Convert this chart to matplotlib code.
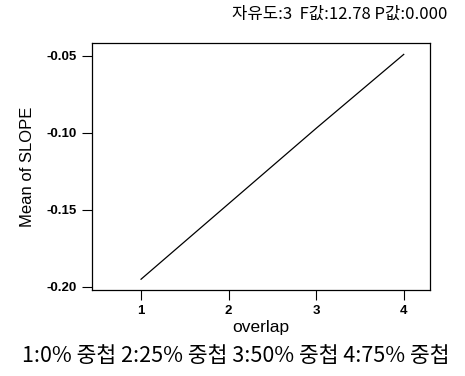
import matplotlib
matplotlib.use('Agg')
from matplotlib import pyplot as plt

overlap = [1, 2, 3, 4]
mean_slope = [-0.195, -0.146, -0.097, -0.049]
yticks = [-0.05, -0.10, -0.15, -0.20]
title_text = '자유도:3  F값:12.78 P값:0.000'
note_text = '1:0% 중첩 2:25% 중첩 3:50% 중첩 4:75% 중첩'

plt.rcParams['font.family'] = ['Liberation Sans', 'Noto Sans CJK KR', 'DejaVu Sans']

fig = plt.figure(figsize=(4.65, 3.76), dpi=100)
ax = fig.add_axes([92/465, 1 - 290/376, (430-92)/465, (290-43)/376])

ax.plot(overlap, mean_slope, color='black', linewidth=0.9)
ax.set_xlim(0.44, 4.30)
ax.set_ylim(-0.202, -0.0416)
ax.set_xticks(overlap)
ax.set_yticks(yticks)
ax.set_yticklabels(['%.2f' % v for v in yticks])
ax.tick_params(direction='out', length=7, width=0.8, labelsize=9.5, pad=4)
for lab in ax.get_xticklabels() + ax.get_yticklabels():
    lab.set_fontweight('bold')
for s in ax.spines.values():
    s.set_linewidth(0.9)

ax.set_xlabel('overlap', fontsize=12.5, labelpad=2)
ax.set_ylabel('Mean of SLOPE', fontsize=12, labelpad=8)

fig.text(0.73, 1 - 14/376, title_text, ha='center', va='center', fontsize=12,
         family=['Noto Sans CJK KR', 'DejaVu Sans'])
fig.text(0.508, 1 - 356/376, note_text, ha='center', va='center', fontsize=15.5,
         family=['Noto Sans CJK KR', 'DejaVu Sans'])

fig.savefig('out.png', dpi=100)
